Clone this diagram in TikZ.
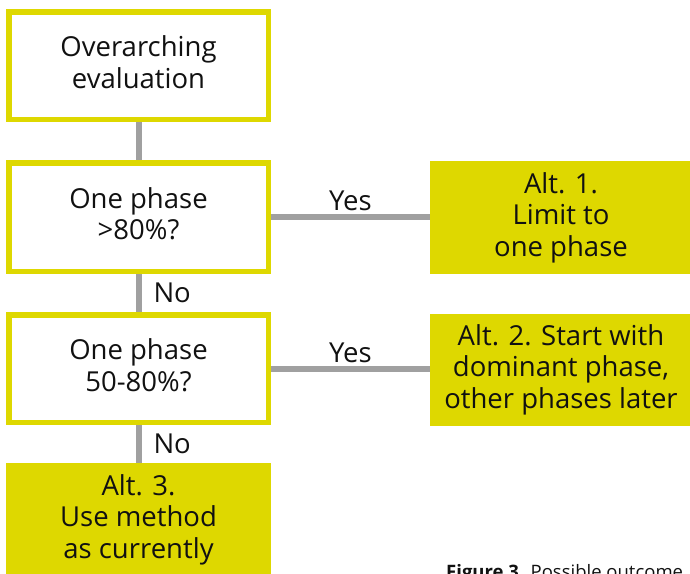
\documentclass[tikz,border=0pt]{standalone}
\usepackage{fontspec}
\setmainfont{Open Sans}
\definecolor{boxyellow}{RGB}{222,216,0}
\definecolor{linkgray}{RGB}{160,160,160}
\definecolor{inkblack}{RGB}{17,17,17}
\newcommand\flowfont{\fontsize{27.5}{31.5}\selectfont}
\tikzset{
  question/.style={draw=boxyellow, line width=5.5pt, fill=white,
    minimum width=259.5pt, minimum height=108pt, inner sep=0pt,
    align=center, text=inkblack, font=\flowfont, text depth=7pt},
  outcome/.style={fill=boxyellow, inner sep=0pt, align=center,
    text=inkblack, font=\flowfont},
  link/.style={draw=linkgray, line width=6pt},
  answer/.style={text=inkblack, font=\flowfont, inner sep=3pt}
}
\begin{document}
\begin{tikzpicture}[x=1pt, y=-1pt]
  \useasboundingbox (0,0) rectangle (690,573);
  \clip (0,0) rectangle (690,573);

  % decision column
  \node[question, minimum height=107.5pt] (eval) at (138.5,65.5) {Overarching\\evaluation};
  \node[question, minimum height=108.5pt] (q80) at (138.5,217) {One phase\\>80\%?};
  \node[question, minimum height=107.5pt] (q50) at (138.5,368.5) {One phase\\50-80\%?};
  \node[outcome, minimum width=265pt, minimum height=113pt] (alt3) at (138.5,519.5)
    {Alt. 3.\\Use method\\as currently};

  % outcomes on the right
  \node[outcome, minimum width=262pt, minimum height=113pt] (alt1) at (561,217.5)
    {Alt. 1.\\Limit to\\one phase};
  \node[outcome, minimum width=262pt, minimum height=112pt] (alt2) at (561,369.5)
    {Alt. 2. Start with\\dominant phase,\\other phases later};

  % connectors
  \draw[link] (eval.south) -- (q80.north);
  \draw[link] (q80.south) -- node[answer, anchor=west, xshift=9pt] {No} (q50.north);
  \draw[link] (q50.south) -- node[answer, anchor=west, xshift=9pt] {No} (alt3.north);
  \draw[link] (q80.east) -- node[answer, above] {Yes} (q80.east -| alt1.west);
  \draw[link] (q50.east) -- node[answer, above] {Yes} (q50.east -| alt2.west);

  % caption
  \node[anchor=base west, inner sep=0pt, text=inkblack, font=\fontsize{18.5}{22}\selectfont]
    (caption) at (446,578) {\textbf{Figure 3.} Possible outcome};
\end{tikzpicture}
\end{document}
